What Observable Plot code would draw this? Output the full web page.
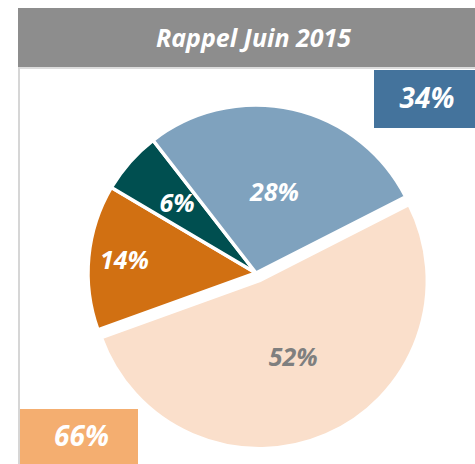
<!DOCTYPE html>
<html>
<head>
<meta charset="utf-8">
<script src="https://cdn.jsdelivr.net/npm/d3@7"></script>
<script src="https://cdn.jsdelivr.net/npm/@observablehq/plot@0.6"></script>
<style>
  html, body { margin: 0; padding: 0; background: #fff; }
  #wrap { position: relative; width: 475px; height: 464px; overflow: hidden; font-family: "Open Sans", sans-serif; }
  #chart { position: absolute; left: 0; top: 0; }
  #title { position: absolute; left: 18px; top: 8px; width: 457px; height: 59px; background: #8d8d8d;
           color: #fff; font-weight: 700; font-style: italic; font-size: 25px; line-height: 59px;
           text-align: center; box-sizing: border-box; padding-left: 14px; }
  #frameL { position: absolute; left: 18px; top: 67px; width: 2px; height: 397px; background: #d6d6d6; }
  #frameT { position: absolute; left: 18px; top: 67px; width: 457px; height: 2px; background: #dcdcdc; }
</style>
</head>
<body>
<div id="wrap">
  <div id="chart"></div>
  <div id="frameT"></div>
  <div id="frameL"></div>
  <div id="title">Rappel Juin 2015</div>
</div>
<script>
// ---- data ----
const sliceLabels = ["52%", "14%", "6%", "28%"];
const sliceValues = [52, 14, 6, 28];
const totalLabels = ["34%", "66%"];
const totalValues = [34, 66];

// ---- styles / layout ----
const sliceColors = ["#fadfcb", "#d17012", "#004f50", "#7fa2be"];
const sliceTextColors = ["#7f7f7f", "#ffffff", "#ffffff", "#ffffff"];
const sliceExplode = [0.05, 0, 0, 0];
const sliceLabelRadius = [0.5, 0.79, 0.63, 0.49];
const totalColors = ["#44739c", "#f4ae70"];
const totalBoxes = [[374, 70, 475, 128], [20, 409, 138, 464]]; // pixel layout x1,y1,x2,y2

const W = 475, H = 464;
const CX = 256, CY = 273, R = 168;
const px = p => (p - CX) / R;
const py = p => (CY - p) / R;
const startDeg = 63;

const arcs = d3.pie().sort(null)
  .startAngle(startDeg * Math.PI / 180)
  .endAngle((startDeg + 360) * Math.PI / 180)(sliceValues);

const mid = d => (d.startAngle + d.endAngle) / 2;

const pieMark = Plot.dot(arcs, {
  x: () => 0, y: () => 0,
  render(index, scales) {
    const x = scales.x, y = scales.y;
    const cx = x(0), cy = y(0), r = x(1) - x(0);
    const arc = d3.arc().innerRadius(0).outerRadius(r);
    const g = d3.create("svg:g");
    for (const i of index) {
      const d = arcs[i], m = mid(d), off = sliceExplode[i] * r;
      g.append("path")
        .attr("d", arc(d))
        .attr("transform", `translate(${cx + off * Math.sin(m)},${cy - off * Math.cos(m)})`)
        .attr("fill", sliceColors[i])
        .attr("stroke", "#fff")
        .attr("stroke-width", 3.5)
        .attr("stroke-linejoin", "round");
    }
    return g.node();
  }
});

const plot = Plot.plot({
  width: W, height: H,
  margin: 0,
  style: { background: "transparent" },
  x: { domain: [px(0), px(W)], axis: null },
  y: { domain: [py(H), py(0)], axis: null },
  marks: [
    pieMark,
    Plot.text(arcs, {
      x: (d, i) => (sliceLabelRadius[i] + sliceExplode[i]) * Math.sin(mid(d)),
      y: (d, i) => (sliceLabelRadius[i] + sliceExplode[i]) * Math.cos(mid(d)),
      text: (d, i) => sliceLabels[i],
      fill: (d, i) => sliceTextColors[i],
      fontFamily: "Open Sans", fontSize: 25, fontWeight: 700, fontStyle: "italic"
    }),
    Plot.rect(totalValues, {
      x1: (d, i) => px(totalBoxes[i][0]), x2: (d, i) => px(totalBoxes[i][2]),
      y1: (d, i) => py(totalBoxes[i][1]), y2: (d, i) => py(totalBoxes[i][3]),
      fill: (d, i) => totalColors[i]
    }),
    Plot.text(totalValues, {
      x: (d, i) => px((totalBoxes[i][0] + totalBoxes[i][2]) / 2 + 2),
      y: (d, i) => py((totalBoxes[i][1] + totalBoxes[i][3]) / 2),
      text: (d, i) => totalLabels[i],
      fill: "#fff",
      fontFamily: "Open Sans", fontSize: 28, fontWeight: 700, fontStyle: "italic"
    })
  ]
});
document.getElementById("chart").appendChild(plot);
</script>
</body>
</html>
